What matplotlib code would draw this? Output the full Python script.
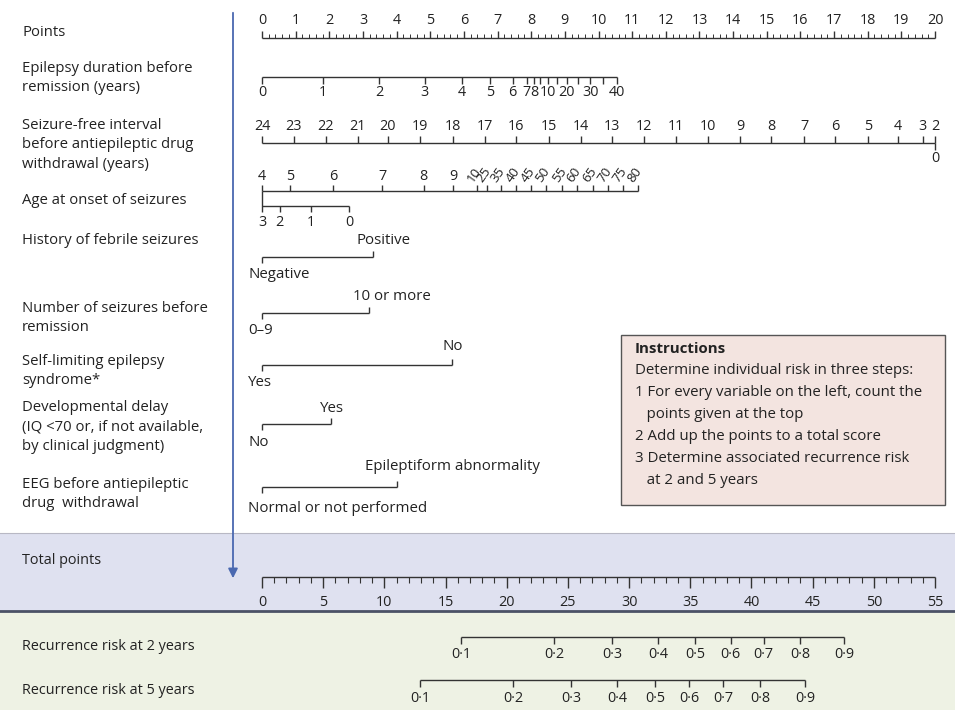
import matplotlib.pyplot as plt
from matplotlib.patches import Rectangle

plt.rcParams['font.family'] = ['Open Sans', 'DejaVu Sans']

# points scale (value -> points)
points_major = list(range(0, 21))

dur_vals = [0, 1, 2, 3, 4, 5, 6, 7, 8, 9, 10, 15, 20, 25, 30, 35, 40]
dur_pts = [0, 1.81, 3.48, 4.84, 5.94, 6.78, 7.45, 7.87, 8.08, 8.26, 8.50, 8.77, 9.06, 9.39, 9.75, 10.13, 10.55]
dur_labeled = [0, 1, 2, 3, 4, 5, 6, 7, 8, 10, 20, 30, 40]

sfi_vals = [24, 23, 22, 21, 20, 19, 18, 17, 16, 15, 14, 13, 12, 11, 10, 9, 8, 7, 6, 5, 4, 3, 2]
sfi_pts = [0, 0.95, 1.90, 2.85, 3.74, 4.70, 5.68, 6.63, 7.55, 8.53, 9.48, 10.40, 11.35, 12.30,
           13.25, 14.21, 15.13, 16.11, 17.03, 18.01, 18.90, 19.64, 20.0]
sfi_zero_pts = 20.0

age_vals = [4, 5, 6, 7, 8, 9, 10, 25, 35, 40, 45, 50, 55, 60, 65, 70, 75, 80]
age_pts = [0, 0.83, 2.11, 3.57, 4.81, 5.68, 6.39, 6.69, 7.10, 7.55, 8.00, 8.44, 8.92, 9.36,
           9.84, 10.28, 10.73, 11.18]
age_low_vals = [3, 2, 1, 0]
age_low_pts = [0, 0.53, 1.46, 2.59]

binary_low = ['Negative', '0\u20139', 'Yes', 'No', 'Normal or not performed']
binary_high = ['Positive', '10 or more', 'No', 'Yes', 'Epileptiform abnormality']
binary_pts = [3.30, 3.18, 5.65, 2.05, 4.01]

total_max = 55
risk_vals = [0.1, 0.2, 0.3, 0.4, 0.5, 0.6, 0.7, 0.8, 0.9]
risk2_total = [16.26, 23.86, 28.6, 32.4, 35.4, 38.3, 41.0, 44.0, 47.6]
risk5_total = [12.9, 20.5, 25.25, 29.0, 32.1, 34.9, 37.7, 40.7, 44.4]

row_labels = [
    ('Points', 33),
    ('Epilepsy duration before\nremission (years)', 78),
    ('Seizure-free interval\nbefore antiepileptic drug\nwithdrawal (years)', 145),
    ('Age at onset of seizures', 200),
    ('History of febrile seizures', 240),
    ('Number of seizures before\nremission', 318),
    ('Self-limiting epilepsy\nsyndrome*', 371),
    ('Developmental delay\n(IQ <70 or, if not available,\nby clinical judgment)', 427),
    ('EEG before antiepileptic\ndrug  withdrawal', 494),
]
bottom_labels = [
    ('Total points', 560),
    ('Recurrence risk at 2 years', 647),
    ('Recurrence risk at 5 years', 690),
]

LC = '#333333'
TC = '#222222'
FS = 10.7
FS_TICK = 10.4
FS_CAT = 10.8
FS_BOX = 10.8


def px(x):
    # pixel column -> points coordinate
    return (x - 262) * 20 / 673


def tot(t):
    return t * 20 / total_max


def fmt_risk(v):
    return ('%.1f' % v).replace('.', '\u00b7')


fig = plt.figure(figsize=(9.55, 7.10), dpi=100)
ax = fig.add_axes([0, 0, 1, 1])
ax.set_xlim(px(0), px(955))
ax.set_ylim(710, 0)
ax.axis('off')

# background bands
ax.add_patch(Rectangle((px(0), 533), px(955) - px(0), 78, facecolor='#dfe1f0', edgecolor='none', zorder=0))
ax.add_patch(Rectangle((px(0), 612), px(955) - px(0), 98, facecolor='#eef2e4', edgecolor='none', zorder=0))
ax.plot([px(0), px(955)], [533, 533], color='#b8b8c4', lw=0.8, zorder=1)
ax.plot([px(0), px(955)], [611, 611], color='#4b5266', lw=2.0, zorder=1)

for txt, y in row_labels:
    ax.text(px(22), y, txt, fontsize=FS, color=TC, va='center', ha='left', linespacing=1.42)
for txt, y in bottom_labels:
    ax.text(px(22), y, txt, fontsize=10.4, color=TC, va='center', ha='left')


def hline(p0, p1, y):
    ax.plot([p0, p1], [y, y], color=LC, lw=1.0, solid_capstyle='butt')


def ticks(xs, y0, y1, lw=1.0):
    for x in xs:
        ax.plot([x, x], [y0, y1], color=LC, lw=lw, solid_capstyle='butt')


# Points axis
hline(0, 20, 38)
ticks(points_major, 38, 31)
ticks([i / 5 for i in range(101) if i % 5], 38, 34, lw=0.7)
for v in points_major:
    ax.text(v, 20, str(v), fontsize=FS_TICK, color=TC, ha='center', va='center')

# Epilepsy duration
hline(dur_pts[0], dur_pts[-1], 77)
ticks(dur_pts, 77, 84)
for v, p in zip(dur_vals, dur_pts):
    if v in dur_labeled:
        ax.text(p, 93, str(v), fontsize=FS_TICK, color=TC, ha='center', va='center')

# Seizure-free interval
hline(sfi_pts[0], sfi_pts[-1], 143)
ticks(sfi_pts, 143, 136)
for v, p in zip(sfi_vals, sfi_pts):
    ax.text(p, 127, str(v), fontsize=FS_TICK, color=TC, ha='center', va='center')
ticks([sfi_zero_pts], 143, 150)
ax.text(sfi_zero_pts, 158, '0', fontsize=FS_TICK, color=TC, ha='center', va='center')

# Age at onset
hline(age_pts[0], age_pts[-1], 191)
ticks(age_pts, 191, 185)
for v, p in zip(age_vals, age_pts):
    if v < 10:
        ax.text(p, 177, str(v), fontsize=FS_TICK, color=TC, ha='center', va='center')
    else:
        ax.text(p - 0.06, 185, str(v), fontsize=9.5, color=TC, ha='left', va='bottom',
                rotation=55, rotation_mode='anchor')
hline(age_low_pts[0], age_low_pts[-1], 206)
ticks([age_low_pts[0]], 191, 212)
ticks(age_low_pts[1:], 206, 212)
for v, p in zip(age_low_vals, age_low_pts):
    ax.text(p, 222, str(v), fontsize=FS_TICK, color=TC, ha='center', va='center')

# binary predictors
bin_rows = [(257, 240, 275), (313, 297, 330), (365, 347, 382), (424, 409, 442), (487, 466, 508)]
high_dx = [-17, -16, -10, -11, -32]
for (yl, yh, ylo), lo, hi, p, dx in zip(bin_rows, binary_low, binary_high, binary_pts, high_dx):
    hline(0, p, yl)
    ticks([0], yl, yl + 6)
    ticks([p], yl, yl - 6)
    ax.text(px(248), ylo, lo, fontsize=FS_CAT, color=TC, ha='left', va='center')
    ax.text(p + dx * 20 / 673, yh, hi, fontsize=FS_CAT, color=TC, ha='left', va='center')

# Total points
hline(0, tot(total_max), 577)
ticks([tot(t) for t in range(0, total_max + 1, 5)], 577, 588)
ticks([tot(t) for t in range(total_max + 1) if t % 5], 577, 583, lw=0.8)
for t in range(0, total_max + 1, 5):
    ax.text(tot(t), 603, str(t), fontsize=FS_TICK, color=TC, ha='center', va='center')

# risk scales
for totals, yl in [(risk2_total, 637), (risk5_total, 680)]:
    xs = [tot(t) for t in totals]
    hline(xs[0], xs[-1], yl)
    ticks(xs, yl, yl + 7)
    for v, x in zip(risk_vals, xs):
        ax.text(x, yl + 18, fmt_risk(v), fontsize=FS_TICK, color=TC, ha='center', va='center')

# arrow
ax.annotate('', xy=(px(233), 581), xytext=(px(233), 10),
            arrowprops=dict(arrowstyle='-|>', color='#4a68b0', lw=1.3, mutation_scale=14))

# instructions box
ax.add_patch(Rectangle((px(621), 335), px(945) - px(621), 170, facecolor='#f3e4e0',
                       edgecolor='#555555', lw=1.0, zorder=2))
ax.text(px(635), 349, 'Instructions', fontsize=FS_BOX, fontweight='bold', color=TC, va='center', zorder=3)
instr = ['Determine individual risk in three steps:',
         '1 For every variable on the left, count the',
         '   points given at the top',
         '2 Add up the points to a total score',
         '3 Determine associated recurrence risk',
         '   at 2 and 5 years']
for i, line in enumerate(instr):
    ax.text(px(635), 371 + i * 21.8, line, fontsize=FS_BOX, color=TC, va='center', zorder=3)

fig.savefig('out.png', dpi=100)
